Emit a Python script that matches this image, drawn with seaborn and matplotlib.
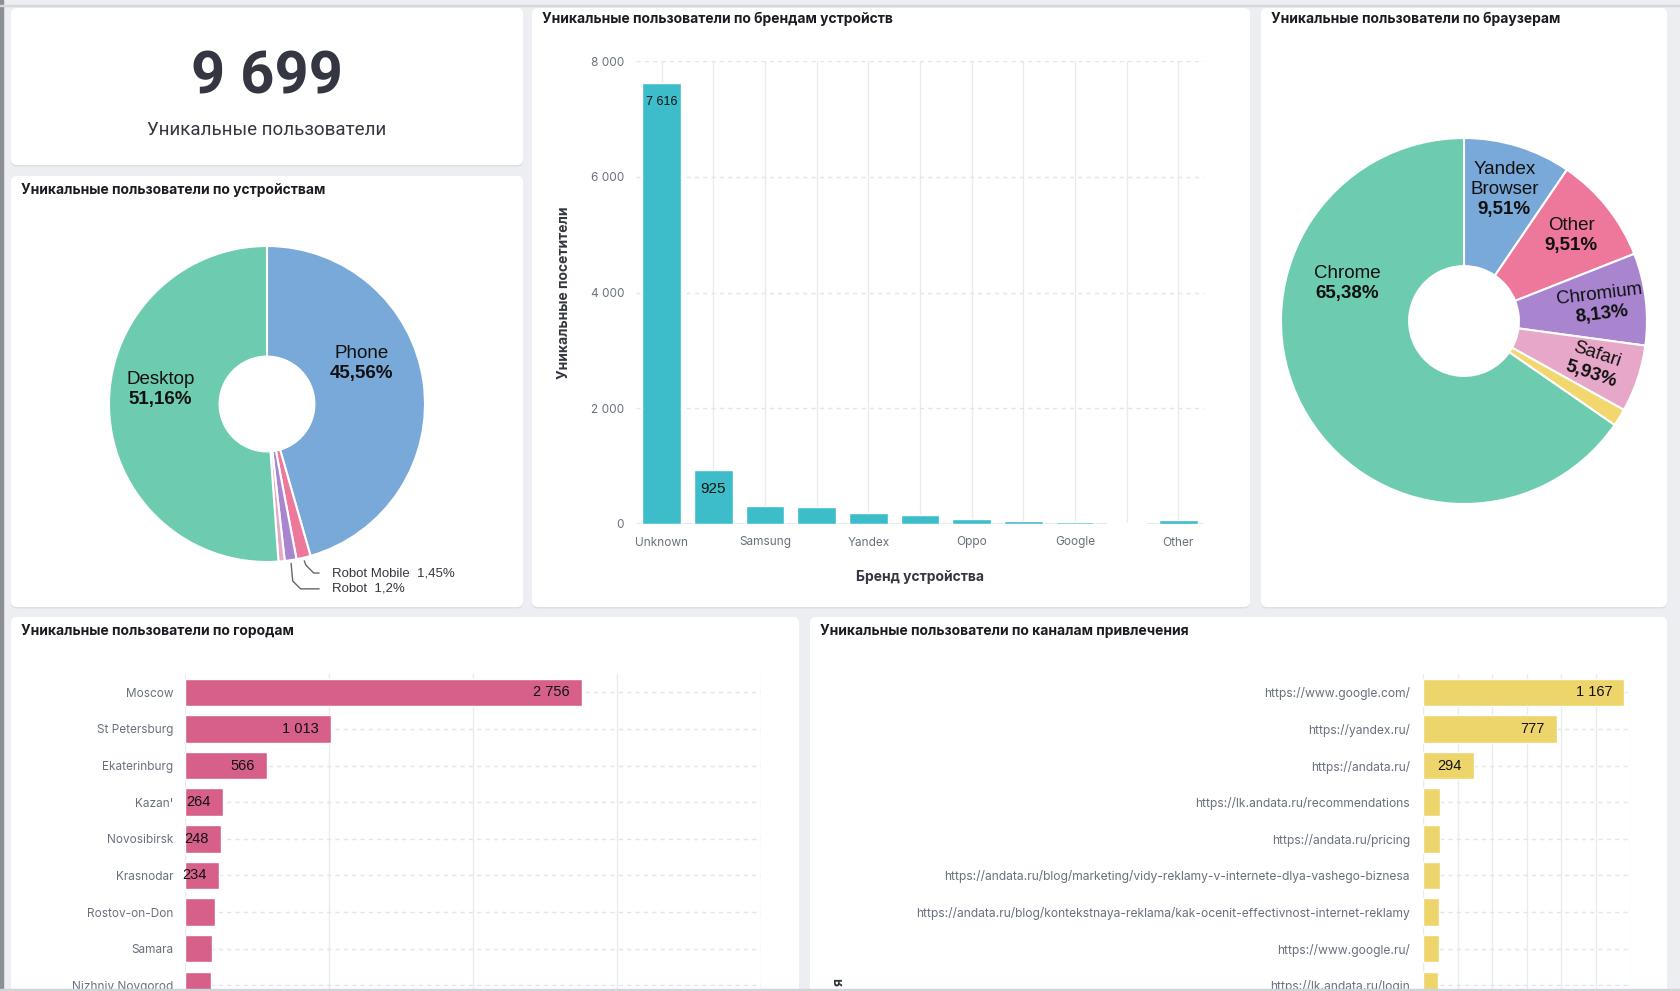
import numpy as np
import matplotlib
matplotlib.use('Agg')
import matplotlib.pyplot as plt
import seaborn as sns
from matplotlib.patches import FancyBboxPatch, Rectangle
from matplotlib.ticker import FuncFormatter

# --- данные дашборда ---
total_users = 9699
kpi_caption = 'Уникальные пользователи'

device_names = ['Phone', 'Robot Mobile', 'Robot', 'Tablet', 'Desktop']
device_share = [45.56, 1.45, 1.2, 0.63, 51.16]

brand_names = ['Unknown', 'Apple', 'Samsung', 'Xiaomi', 'Yandex', 'Huawei',
               'Oppo', 'Honor', 'Google', 'Realme', 'Other']
brand_users = [7616, 925, 314, 295, 188, 148, 80, 46, 40, 20, 65]

browser_names = ['Yandex\nBrowser', 'Other', 'Chromium', 'Safari', 'Firefox', 'Chrome']
browser_share = [9.51, 9.51, 8.13, 5.93, 1.54, 65.38]

city_names = ['Moscow', 'St Petersburg', 'Ekaterinburg', "Kazan'", 'Novosibirsk',
              'Krasnodar', 'Rostov-on-Don', 'Samara', 'Nizhniy Novgorod']
city_users = [2756, 1013, 566, 264, 248, 234, 209, 188, 181]

channel_names = ['https://www.google.com/', 'https://yandex.ru/', 'https://andata.ru/',
                 'https://lk.andata.ru/recommendations', 'https://andata.ru/pricing',
                 'https://andata.ru/blog/marketing/vidy-reklamy-v-internete-dlya-vashego-biznesa',
                 'https://andata.ru/blog/kontekstnaya-reklama/kak-ocenit-effectivnost-internet-reklamy',
                 'https://www.google.ru/', 'https://lk.andata.ru/login']
channel_users = [1167, 777, 294, 100, 97, 96, 93, 91, 89]

# --- стиль ---
BG = '#eceef2'
TITLE = '#1a1c21'
TICK = '#69707d'
DARK = '#343741'
GRID = '#e9ebef'
TEAL = '#3dbcc9'
CITY = '#d6608a'
CHAN = '#eed56b'
GREEN, BLUE, PINK, PURPLE, LPINK, YELLOW = '#6dcbb0', '#79a9d9', '#ee779c', '#a985d0', '#e7a7c9', '#f1d76d'

sns.set_theme(style='white')
plt.rcParams['font.family'] = ['Inter', 'DejaVu Sans']
PIEFONT = ['Liberation Sans', 'DejaVu Sans']

W, H = 1680, 991
fig = plt.figure(figsize=(W / 100, H / 100), dpi=100)
fig.patch.set_facecolor(BG)


def box(x0, y0, x1, y1):
    return [x0 / W, 1 - y1 / H, (x1 - x0) / W, (y1 - y0) / H]


def panel(x0, y0, x1, y1, title=None, ty=None):
    # тень + белая карточка, координаты в пикселях; под осями
    for dy, col, z in [(1.5, '#dcdfe4', -11), (0, 'white', -10)]:
        fig.add_artist(FancyBboxPatch((x0 / 100, (H - y1 - dy) / 100), (x1 - x0) / 100, (y1 - y0) / 100,
                                      boxstyle='round,pad=0,rounding_size=0.06',
                                      transform=fig.dpi_scale_trans, facecolor=col,
                                      edgecolor='none', zorder=z))
    if title:
        fig.text((x0 + 10) / W, 1 - ty / H, title, fontsize=10, fontweight='bold',
                 color=TITLE, va='center', ha='left')


def fmt_int(v):
    return f'{int(v):,}'.replace(',', ' ')


def fmt_pct(p):
    return f'{p:g}'.replace('.', ',') + '%'


# рамки экрана
fig.add_artist(Rectangle((0, 0), 2.5 / W, 1, transform=fig.transFigure, color='#8c8f95', zorder=-12))
fig.add_artist(Rectangle((0, 1 - 6 / H), 1, 1 / H, transform=fig.transFigure, color='#d5d8dd', zorder=-12))

panel(11, 8, 523, 165)
panel(11, 176, 523, 607, 'Уникальные пользователи по устройствам', 190)
panel(532, 8, 1250, 607, 'Уникальные пользователи по брендам устройств', 19)
panel(1261, 8, 1667, 607, 'Уникальные пользователи по браузерам', 19)
panel(11, 617, 799, 1010, 'Уникальные пользователи по городам', 631)
panel(810, 617, 1667, 1010, 'Уникальные пользователи по каналам привлечения', 631)
fig.add_artist(Rectangle((0, 0), 1, 2.5 / H, transform=fig.transFigure, color='#d0d3d8', zorder=5))

# --- KPI ---
fig.text(267 / W, 1 - 93 / H, fmt_int(total_users), fontsize=43, fontweight='bold',
         family=['Roboto', 'DejaVu Sans'], color=DARK, ha='center', va='baseline')
fig.text(267 / W, 1 - 135 / H, kpi_caption, fontsize=13.5, family=['Roboto', 'DejaVu Sans'],
         color=DARK, ha='center', va='baseline')


# --- кольцевые диаграммы ---
def donut(cx, cy, R, names, shares, colors, spots):
    ax = fig.add_axes(box(cx - 1.05 * R, cy - 1.05 * R, cx + 1.05 * R, cy + 1.05 * R))
    ax.patch.set_alpha(0)
    wedges, _ = ax.pie(shares, colors=colors, startangle=90, counterclock=False,
                       wedgeprops=dict(width=0.7, edgecolor='white', linewidth=1.5))
    ax.set_xlim(-1.05, 1.05)
    ax.set_ylim(-1.05, 1.05)
    for w, name, p in zip(wedges, names, shares):
        if p < 5:
            continue
        mid = (w.theta1 + w.theta2) / 2
        ang, r = spots.get(name, (mid, 0.75))
        rot = mid if p < 9 else 0
        x, y = r * np.cos(np.radians(ang)), r * np.sin(np.radians(ang))
        lines = name.split('\n') + [fmt_pct(p)]
        n = len(lines)
        for i, line in enumerate(lines):
            off = ((n - 1) / 2 - i) * 14.4
            dx, dy = -off * np.sin(np.radians(rot)), off * np.cos(np.radians(rot))
            ax.annotate(line, (x, y), xytext=(dx, dy), textcoords='offset points',
                        ha='center', va='center', rotation=rot, fontsize=13.5,
                        family=PIEFONT, color='#111111',
                        fontweight='bold' if i == n - 1 else 'normal')
    return ax, wedges


ax_dev, dev_wedges = donut(267, 404, 158, device_names, device_share,
                           [BLUE, PINK, PURPLE, LPINK, GREEN],
                           {'Phone': (23, 0.65), 'Desktop': (172, 0.68)})

# внешние подписи мелких секторов
k = 0
for w, name, p in zip(dev_wedges, device_names, device_share):
    if p < 1 or p >= 5:
        continue
    mid = np.radians((w.theta1 + w.theta2) / 2)
    sx, sy = 1.02 * np.cos(mid), 1.02 * np.sin(mid)
    ty = -1.07 - k * 0.1
    ax_dev.plot([sx, sx + 0.01, sx + 0.06, 0.33], [sy, ty + 0.05, ty, ty],
                color='#666666', lw=1, clip_on=False)
    ax_dev.text(0.41, ty, f'{name}  {fmt_pct(p)}', fontsize=9.5, family=PIEFONT,
                color=DARK, ha='left', va='center')
    k += 1

donut(1464, 321, 183, browser_names, browser_share,
      [BLUE, PINK, PURPLE, LPINK, YELLOW, GREEN],
      {'Chrome': (162, 0.67)})

# --- бренды устройств ---
ax_b = fig.add_axes(box(636, 61, 1204, 524))
ax_b.patch.set_alpha(0)
sns.barplot(x=brand_names, y=brand_users, color=TEAL, saturation=1, width=0.75,
            errorbar=None, ax=ax_b, zorder=3)
ax_b.set_ylim(0, 8000)
ax_b.set_xlim(-0.5, len(brand_names) - 0.5)
ax_b.set_yticks(range(0, 8001, 2000))
ax_b.yaxis.set_major_formatter(FuncFormatter(lambda v, _: fmt_int(v)))
ax_b.set_xticks(range(len(brand_names)))
ax_b.set_xticklabels([n if i % 2 == 0 else '' for i, n in enumerate(brand_names)])
ax_b.grid(axis='x', color=GRID, lw=1, linestyle='-')
ax_b.grid(axis='y', color='#e3e5e9', lw=1, linestyle=(0, (3, 3)))
ax_b.axhline(0, color='#e3e5e9', lw=1.2, zorder=2)
ax_b.set_axisbelow(True)
sns.despine(ax=ax_b, left=True, bottom=True)
ax_b.tick_params(length=0, labelsize=8.5, colors=TICK)
ax_b.tick_params(axis='y', pad=8.6)
ax_b.tick_params(axis='x', pad=9)
ax_b.set_ylabel('Уникальные посетители', fontsize=10, fontweight='bold', color=DARK)
ax_b.set_xlabel('Бренд устройства', fontsize=10, fontweight='bold', color=DARK)
ax_b.yaxis.set_label_coords(-0.115, 0.5)
ax_b.xaxis.set_label_coords(0.5, -0.099)
for i, v in enumerate(brand_users):
    if v >= 500:
        ax_b.annotate(fmt_int(v), (i, v), xytext=(0, -13.7), textcoords='offset points',
                      ha='center', va='center', fontsize=9 if v >= 1000 else 11,
                      family=PIEFONT, color='#111111', zorder=4)


# --- горизонтальные бары ---
def hbars(rect, names, values, color, xmax, step, min_label, pad, fs):
    ax = fig.add_axes(rect)
    ax.patch.set_alpha(0)
    sns.barplot(x=values, y=names, orient='h', color=color, saturation=1, width=0.75,
                errorbar=None, ax=ax, zorder=3)
    ax.set_xlim(0, xmax)
    ax.set_ylim(len(names) - 0.5, -0.5)
    ax.set_xticks(np.arange(0, xmax + 1, step))
    ax.tick_params(labelbottom=False)
    ax.grid(axis='x', color=GRID, lw=1, linestyle='-')
    ax.grid(axis='y', color='#e3e5e9', lw=1, linestyle=(0, (3, 3)))
    ax.set_axisbelow(True)
    sns.despine(ax=ax, left=True, bottom=True)
    ax.tick_params(length=0, labelsize=fs, colors=TICK)
    ax.tick_params(axis='y', pad=pad)
    ax.set_xlabel('')
    ax.set_ylabel('')
    for i, v in enumerate(values):
        if v >= min_label:
            ax.annotate(fmt_int(v), (v, i), xytext=(-8.6, 0), textcoords='offset points',
                        ha='right', va='center', fontsize=10.5, family=PIEFONT,
                        color='#111111', zorder=4)
    return ax


hbars(box(185, 674, 761, 1003.6), city_names, city_users, CITY, 4000, 1000, 230, 8.6, 8.5)
hbars(box(1423, 674, 1630, 1003.6), channel_names, channel_users, CHAN, 1200, 200, 200, 9.4, 8.7)

# видимый край подписи оси каналов
fig.text(839 / W, 1 - 982 / H, 'я', rotation=90, fontsize=10,
         fontweight='bold', color=DARK, ha='center', va='center')

fig.savefig('out.png', dpi=100, facecolor=BG)
